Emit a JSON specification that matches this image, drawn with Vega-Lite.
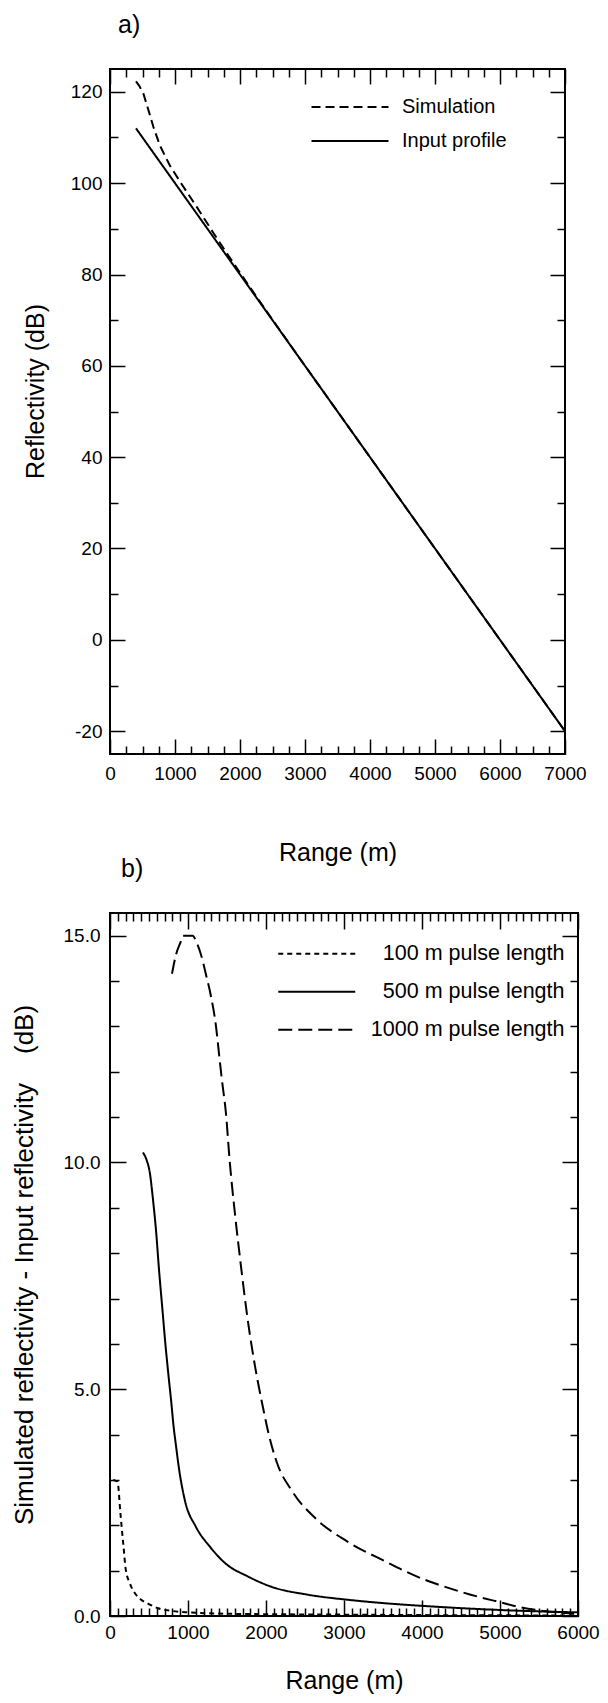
{
  "$schema": "https://vega.github.io/schema/vega-lite/v6.json",
  "background": "white",
  "padding": {"left": 10, "top": 12, "right": 0, "bottom": 0},
  "bounds": "flush",
  "spacing": 159,
  "resolve": {"scale": {"x": "independent", "y": "independent", "strokeDash": "independent"}, "legend": {"strokeDash": "independent"}, "axis": {"x": "independent", "y": "independent"}},
  "datasets": {
    "a": [
      {"series": "Input profile", "range": 400, "dB": 112},
      {"series": "Input profile", "range": 7000, "dB": -20},
      {"series": "Simulation", "range": 400, "dB": 122.3},
      {"series": "Simulation", "range": 450, "dB": 121.3},
      {"series": "Simulation", "range": 514, "dB": 119.6},
      {"series": "Simulation", "range": 591, "dB": 116.0},
      {"series": "Simulation", "range": 668, "dB": 112.3},
      {"series": "Simulation", "range": 769, "dB": 108.2},
      {"series": "Simulation", "range": 923, "dB": 103.8},
      {"series": "Simulation", "range": 1129, "dB": 99.2},
      {"series": "Simulation", "range": 1334, "dB": 94.8},
      {"series": "Simulation", "range": 1591, "dB": 89.1},
      {"series": "Simulation", "range": 1800, "dB": 84.6},
      {"series": "Simulation", "range": 2000, "dB": 80.4},
      {"series": "Simulation", "range": 2250, "dB": 75.2},
      {"series": "Simulation", "range": 2500, "dB": 70.1},
      {"series": "Simulation", "range": 3000, "dB": 60.0},
      {"series": "Simulation", "range": 4000, "dB": 40.0},
      {"series": "Simulation", "range": 5000, "dB": 20.0},
      {"series": "Simulation", "range": 6000, "dB": 0.0},
      {"series": "Simulation", "range": 7000, "dB": -20.0}
    ],
    "b": [
      {"series": "100 m pulse length", "range": 40, "diff": 3.0},
      {"series": "100 m pulse length", "range": 90, "diff": 2.97},
      {"series": "100 m pulse length", "range": 110, "diff": 2.8},
      {"series": "100 m pulse length", "range": 125, "diff": 2.45},
      {"series": "100 m pulse length", "range": 150, "diff": 1.95},
      {"series": "100 m pulse length", "range": 175, "diff": 1.5},
      {"series": "100 m pulse length", "range": 200, "diff": 1.05},
      {"series": "100 m pulse length", "range": 255, "diff": 0.72},
      {"series": "100 m pulse length", "range": 320, "diff": 0.5},
      {"series": "100 m pulse length", "range": 405, "diff": 0.35},
      {"series": "100 m pulse length", "range": 490, "diff": 0.27},
      {"series": "100 m pulse length", "range": 617, "diff": 0.17},
      {"series": "100 m pulse length", "range": 800, "diff": 0.11},
      {"series": "100 m pulse length", "range": 1000, "diff": 0.08},
      {"series": "100 m pulse length", "range": 1500, "diff": 0.05},
      {"series": "100 m pulse length", "range": 2000, "diff": 0.04},
      {"series": "100 m pulse length", "range": 3000, "diff": 0.03},
      {"series": "100 m pulse length", "range": 4000, "diff": 0.02},
      {"series": "100 m pulse length", "range": 5000, "diff": 0.015},
      {"series": "100 m pulse length", "range": 6000, "diff": 0.01},
      {"series": "500 m pulse length", "range": 422, "diff": 10.22},
      {"series": "500 m pulse length", "range": 470, "diff": 10.05},
      {"series": "500 m pulse length", "range": 511, "diff": 9.77},
      {"series": "500 m pulse length", "range": 550, "diff": 9.2},
      {"series": "500 m pulse length", "range": 590, "diff": 8.5},
      {"series": "500 m pulse length", "range": 630, "diff": 7.6},
      {"series": "500 m pulse length", "range": 670, "diff": 6.8},
      {"series": "500 m pulse length", "range": 710, "diff": 6.0},
      {"series": "500 m pulse length", "range": 750, "diff": 5.3},
      {"series": "500 m pulse length", "range": 787, "diff": 4.69},
      {"series": "500 m pulse length", "range": 811, "diff": 4.25},
      {"series": "500 m pulse length", "range": 850, "diff": 3.7},
      {"series": "500 m pulse length", "range": 887, "diff": 3.22},
      {"series": "500 m pulse length", "range": 960, "diff": 2.55},
      {"series": "500 m pulse length", "range": 1100, "diff": 1.97},
      {"series": "500 m pulse length", "range": 1280, "diff": 1.53},
      {"series": "500 m pulse length", "range": 1480, "diff": 1.16},
      {"series": "500 m pulse length", "range": 1770, "diff": 0.87},
      {"series": "500 m pulse length", "range": 2060, "diff": 0.65},
      {"series": "500 m pulse length", "range": 2536, "diff": 0.47},
      {"series": "500 m pulse length", "range": 3035, "diff": 0.36},
      {"series": "500 m pulse length", "range": 3535, "diff": 0.28},
      {"series": "500 m pulse length", "range": 4035, "diff": 0.22},
      {"series": "500 m pulse length", "range": 4534, "diff": 0.17},
      {"series": "500 m pulse length", "range": 5033, "diff": 0.13},
      {"series": "500 m pulse length", "range": 5533, "diff": 0.1},
      {"series": "500 m pulse length", "range": 6000, "diff": 0.08},
      {"series": "1000 m pulse length", "range": 795, "diff": 14.16},
      {"series": "1000 m pulse length", "range": 846, "diff": 14.58},
      {"series": "1000 m pulse length", "range": 910, "diff": 14.88},
      {"series": "1000 m pulse length", "range": 935, "diff": 15.0},
      {"series": "1000 m pulse length", "range": 1060, "diff": 15.0},
      {"series": "1000 m pulse length", "range": 1103, "diff": 14.88},
      {"series": "1000 m pulse length", "range": 1167, "diff": 14.58},
      {"series": "1000 m pulse length", "range": 1231, "diff": 14.14},
      {"series": "1000 m pulse length", "range": 1295, "diff": 13.66},
      {"series": "1000 m pulse length", "range": 1359, "diff": 13.0},
      {"series": "1000 m pulse length", "range": 1401, "diff": 12.34},
      {"series": "1000 m pulse length", "range": 1432, "diff": 11.86},
      {"series": "1000 m pulse length", "range": 1486, "diff": 11.09},
      {"series": "1000 m pulse length", "range": 1536, "diff": 10.0},
      {"series": "1000 m pulse length", "range": 1600, "diff": 8.9},
      {"series": "1000 m pulse length", "range": 1680, "diff": 7.7},
      {"series": "1000 m pulse length", "range": 1760, "diff": 6.6},
      {"series": "1000 m pulse length", "range": 1860, "diff": 5.5},
      {"series": "1000 m pulse length", "range": 1961, "diff": 4.6},
      {"series": "1000 m pulse length", "range": 2036, "diff": 4.0},
      {"series": "1000 m pulse length", "range": 2136, "diff": 3.4},
      {"series": "1000 m pulse length", "range": 2336, "diff": 2.75},
      {"series": "1000 m pulse length", "range": 2636, "diff": 2.15},
      {"series": "1000 m pulse length", "range": 3035, "diff": 1.65},
      {"series": "1000 m pulse length", "range": 3535, "diff": 1.2},
      {"series": "1000 m pulse length", "range": 3769, "diff": 1.0},
      {"series": "1000 m pulse length", "range": 4035, "diff": 0.8},
      {"series": "1000 m pulse length", "range": 4196, "diff": 0.7},
      {"series": "1000 m pulse length", "range": 4624, "diff": 0.47},
      {"series": "1000 m pulse length", "range": 5009, "diff": 0.3},
      {"series": "1000 m pulse length", "range": 5265, "diff": 0.19},
      {"series": "1000 m pulse length", "range": 5521, "diff": 0.12},
      {"series": "1000 m pulse length", "range": 5800, "diff": 0.07},
      {"series": "1000 m pulse length", "range": 5950, "diff": 0.05}
    ]
  },
  "vconcat": [
    {
      "width": 455,
      "height": 685,
      "data": {"name": "a"},
      "title": {"text": "a)", "anchor": "start", "frame": "group", "fontSize": 25, "fontWeight": "normal", "offset": 30, "dx": 8, "color": "black"},
      "resolve": {"axis": {"x": "independent", "y": "independent"}},
      "layer": [
        {
          "mark": {"type": "line", "color": "black", "strokeWidth": 2},
          "encoding": {
            "x": {"field": "range", "type": "quantitative", "scale": {"domain": [0, 7000], "nice": false, "zero": false},
              "axis": {"orient": "bottom", "values": [0, 1000, 2000, 3000, 4000, 5000, 6000, 7000], "format": "d", "tickSize": -15, "labelPadding": 25, "title": "Range (m)", "titlePadding": 57}},
            "y": {"field": "dB", "type": "quantitative", "scale": {"domain": [-25, 125], "nice": false, "zero": false},
              "axis": {"orient": "left", "values": [-20, 0, 20, 40, 60, 80, 100, 120], "labelExpr": "datum.value + ''", "tickSize": -15, "labelPadding": 23, "title": "Reflectivity (dB)", "titlePadding": 22, "titleY": 322}},
            "strokeDash": {"field": "series", "type": "nominal",
              "scale": {"domain": ["Simulation", "Input profile"], "range": [[9, 5], [1, 0]]},
              "legend": {"title": null, "orient": "none", "legendX": 230, "legendY": 28, "symbolType": "M-5,0H5", "symbolSize": 237, "symbolStrokeWidth": 2, "symbolStrokeColor": "black", "labelFontSize": 20, "labelOffset": 42, "labelLimit": 400, "rowPadding": 14, "labelColor": "black", "padding": 0}}
          }
        },
        {
          "mark": {"type": "point", "opacity": 0},
          "encoding": {
            "x": {"field": "range", "type": "quantitative", "axis": {"orient": "bottom", "values": [250, 500, 750, 1250, 1500, 1750, 2250, 2500, 2750, 3250, 3500, 3750, 4250, 4500, 4750, 5250, 5500, 5750, 6250, 6500, 6750], "tickSize": -8, "labels": false, "title": null}},
            "y": {"field": "dB", "type": "quantitative", "axis": {"orient": "left", "values": [-10, 10, 30, 50, 70, 90, 110], "tickSize": -8, "labels": false, "title": null}}
          }
        },
        {
          "mark": {"type": "point", "opacity": 0},
          "encoding": {
            "x": {"field": "range", "type": "quantitative", "axis": {"orient": "top", "values": [0, 1000, 2000, 3000, 4000, 5000, 6000, 7000], "tickSize": -15, "labels": false, "title": null}},
            "y": {"field": "dB", "type": "quantitative", "axis": {"orient": "right", "values": [-20, 0, 20, 40, 60, 80, 100, 120], "tickSize": -15, "labels": false, "title": null}}
          }
        },
        {
          "mark": {"type": "point", "opacity": 0},
          "encoding": {
            "x": {"field": "range", "type": "quantitative", "axis": {"orient": "top", "values": [250, 500, 750, 1250, 1500, 1750, 2250, 2500, 2750, 3250, 3500, 3750, 4250, 4500, 4750, 5250, 5500, 5750, 6250, 6500, 6750], "tickSize": -8, "labels": false, "title": null}},
            "y": {"field": "dB", "type": "quantitative", "axis": {"orient": "right", "values": [-10, 10, 30, 50, 70, 90, 110], "tickSize": -8, "labels": false, "title": null}}
          }
        }
      ]
    },
    {
      "width": 468,
      "height": 703,
      "data": {"name": "b"},
      "title": {"text": "b)", "anchor": "start", "frame": "group", "fontSize": 25, "fontWeight": "normal", "offset": 30, "dx": 11, "color": "black"},
      "resolve": {"axis": {"x": "independent", "y": "independent"}},
      "layer": [
        {
          "mark": {"type": "line", "color": "black", "strokeWidth": 2, "interpolate": "monotone"},
          "encoding": {
            "x": {"field": "range", "type": "quantitative", "scale": {"domain": [0, 6000], "nice": false, "zero": false},
              "axis": {"orient": "bottom", "values": [0, 1000, 2000, 3000, 4000, 5000, 6000], "format": "d", "tickSize": -16, "labelPadding": 23, "title": "Range (m)", "titlePadding": 26}},
            "y": {"field": "diff", "type": "quantitative", "scale": {"domain": [0, 15.5], "nice": false, "zero": false},
              "axis": {"orient": "left", "values": [0, 5, 10, 15], "format": ".1f", "tickSize": -16, "labelPadding": 26, "title": "Simulated reflectivity - Input reflectivity\u00a0\u00a0\u00a0\u00a0(dB)", "titleFontSize": 26, "titlePadding": 26}},
            "strokeDash": {"field": "series", "type": "nominal",
              "scale": {"domain": ["100 m pulse length", "500 m pulse length", "1000 m pulse length"], "range": [[5, 4], [1, 0], [14, 6]]},
              "legend": {"title": null, "orient": "none", "legendX": 196, "legendY": 30, "symbolType": "M-5,0H5", "symbolSize": 237, "symbolStrokeWidth": 2, "symbolStrokeColor": "black", "labelFontSize": 21.5, "labelAlign": "right", "labelOffset": 237, "labelLimit": 400, "rowPadding": 15, "labelColor": "black", "padding": 0}}
          }
        },
        {
          "mark": {"type": "point", "opacity": 0},
          "encoding": {
            "x": {"field": "range", "type": "quantitative", "axis": {"orient": "bottom", "values": [100, 200, 300, 400, 500, 600, 700, 800, 900, 1100, 1200, 1300, 1400, 1500, 1600, 1700, 1800, 1900, 2100, 2200, 2300, 2400, 2500, 2600, 2700, 2800, 2900, 3100, 3200, 3300, 3400, 3500, 3600, 3700, 3800, 3900, 4100, 4200, 4300, 4400, 4500, 4600, 4700, 4800, 4900, 5100, 5200, 5300, 5400, 5500, 5600, 5700, 5800, 5900], "tickSize": -8, "labels": false, "title": null}},
            "y": {"field": "diff", "type": "quantitative", "axis": {"orient": "left", "values": [1, 2, 3, 4, 6, 7, 8, 9, 11, 12, 13, 14], "tickSize": -9, "labels": false, "title": null}}
          }
        },
        {
          "mark": {"type": "point", "opacity": 0},
          "encoding": {
            "x": {"field": "range", "type": "quantitative", "axis": {"orient": "top", "values": [0, 1000, 2000, 3000, 4000, 5000, 6000], "tickSize": -16, "labels": false, "title": null}},
            "y": {"field": "diff", "type": "quantitative", "axis": {"orient": "right", "values": [0, 5, 10, 15], "tickSize": -16, "labels": false, "title": null}}
          }
        },
        {
          "mark": {"type": "point", "opacity": 0},
          "encoding": {
            "x": {"field": "range", "type": "quantitative", "axis": {"orient": "top", "values": [100, 200, 300, 400, 500, 600, 700, 800, 900, 1100, 1200, 1300, 1400, 1500, 1600, 1700, 1800, 1900, 2100, 2200, 2300, 2400, 2500, 2600, 2700, 2800, 2900, 3100, 3200, 3300, 3400, 3500, 3600, 3700, 3800, 3900, 4100, 4200, 4300, 4400, 4500, 4600, 4700, 4800, 4900, 5100, 5200, 5300, 5400, 5500, 5600, 5700, 5800, 5900], "tickSize": -8, "labels": false, "title": null}},
            "y": {"field": "diff", "type": "quantitative", "axis": {"orient": "right", "values": [1, 2, 3, 4, 6, 7, 8, 9, 11, 12, 13, 14], "tickSize": -8, "labels": false, "title": null}}
          }
        }
      ]
    }
  ],
  "config": {
    "font": "Liberation Sans",
    "view": {"stroke": "black", "strokeWidth": 2},
    "axis": {"domain": false, "grid": false, "labelFlush": false, "labelOverlap": false, "labelFontSize": 19, "labelColor": "black", "labelFont": "Liberation Sans", "titleFontSize": 25, "titleFontWeight": "normal", "titleColor": "black", "titleFont": "Liberation Sans", "tickColor": "black", "tickWidth": 1.5},
    "legend": {"labelFont": "Liberation Sans"},
    "title": {"font": "Liberation Sans"}
  }
}
